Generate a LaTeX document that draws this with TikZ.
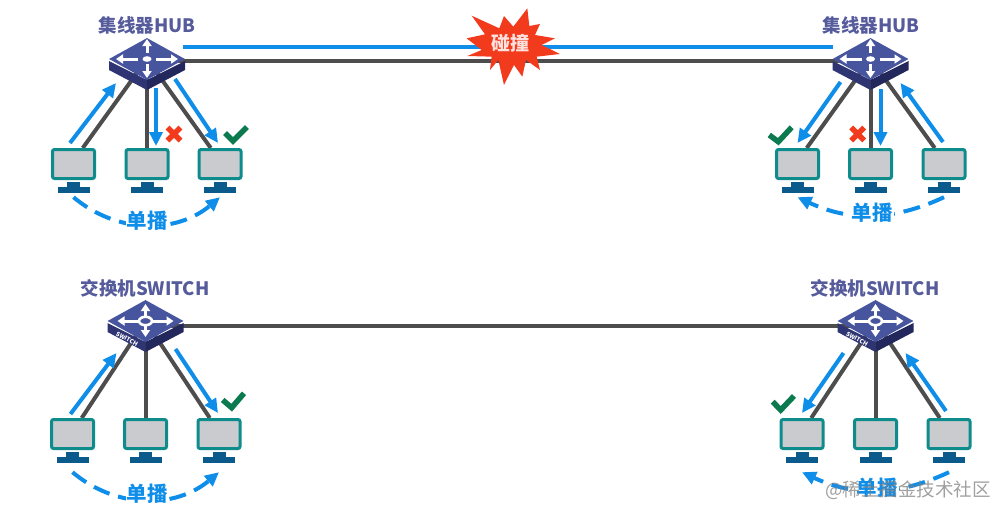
\documentclass[tikz,border=0pt]{standalone}
\usepackage{fontspec}
\setmainfont{Noto Sans CJK SC}
\usepackage{xcolor}
\usetikzlibrary{shapes.geometric, arrows.meta, backgrounds, calc}

\definecolor{wireblue}{HTML}{0F8EE9}
\definecolor{wiregray}{HTML}{4D4D4D}
\definecolor{screenteal}{HTML}{0E8C8C}
\definecolor{screengray}{HTML}{C9CBCF}
\definecolor{standblue}{HTML}{0B5A8C}
\definecolor{hubtopcol}{HTML}{47549E}
\definecolor{hubleftcol}{HTML}{2E3572}
\definecolor{hubrightcol}{HTML}{22275C}
\definecolor{titlecol}{HTML}{565B9C}
\definecolor{okcol}{HTML}{0B7A4F}
\definecolor{nocol}{HTML}{F23A1D}

\begin{document}
\begin{tikzpicture}[x=1pt,y=-1pt,
    pcscreen/.style={draw=screenteal,line width=3pt,fill=screengray,rounded corners=2pt,minimum width=42pt,minimum height=29pt,inner sep=0pt},
    pcbase/.style={fill=standblue,minimum width=32pt,minimum height=6pt,inner sep=0pt},
    hubtop/.style={diamond,aspect=1.8,fill=hubtopcol,minimum width=76pt,minimum height=42pt,inner sep=0pt},
    devtitle/.style={text=titlecol,font=\bfseries\fontsize{18.5}{20}\selectfont,inner sep=0pt},
    unilabel/.style={text=wireblue,fill=white,font=\bfseries\fontsize{20.5}{22}\selectfont,inner sep=1pt},
    trunk/.style={draw=wiregray,line width=4pt},
    flow/.style={draw=wireblue,line width=4pt,-{Triangle[length=14pt,width=13pt]}},
    unicast/.style={draw=wireblue,line width=4pt,dash pattern=on 17pt off 9pt,-{Triangle[length=14pt,width=13pt]}},
    glyph/.style={draw=white,line width=3pt,-{Triangle[length=7pt,width=9pt]}},
    okmark/.style={draw=okcol,line width=5.5pt},
    nomark/.style={draw=nocol,line width=5.5pt}]
    \useasboundingbox (0,0) rectangle (1005,517);

    \def\pcnode#1#2#3{
      \node[pcscreen] (#1) at (#2,#3) {};
      \node[pcbase] (#1base) at (#2,#3+26) {};
      \fill[standblue] ([xshift=-6.5pt]#1base.north) rectangle ([xshift=6.5pt,yshift=5pt]#1base.north);
    }
    \def\hubnode#1#2#3{
      \fill[hubleftcol] (#2-38,#3+2) -- (#2,#3+21) -- (#2,#3+31) -- (#2-38,#3+11) -- cycle;
      \fill[hubrightcol] (#2+38,#3+2) -- (#2,#3+21) -- (#2,#3+31) -- (#2+38,#3+11) -- cycle;
      \node[hubtop] (#1) at (#2,#3) {};
    }

    % top row
    \hubnode{hubA}{147}{59}
    \hubnode{hubB}{870.5}{59}
    \pcnode{pcA}{73.5}{164}
    \pcnode{pcB}{147}{164}
    \pcnode{pcC}{220}{164}
    \pcnode{pcD}{797.5}{164}
    \pcnode{pcE}{870.5}{164}
    \pcnode{pcF}{944}{164}

    % bottom row
    \hubnode{swA}{145.5}{321}
    \hubnode{swB}{875.5}{321}
    \pcnode{pcG}{72.5}{434}
    \pcnode{pcH}{145.5}{434}
    \pcnode{pcI}{219}{434}
    \pcnode{pcJ}{802}{434}
    \pcnode{pcK}{875.5}{434}
    \pcnode{pcL}{949}{434}

    % arrows on the hubs
    \foreach \hub in {hubA,hubB} {
      \fill[white] (\hub.center) ellipse (4.5 and 2.8);
      \draw[glyph] ([yshift=6pt]\hub.center) -- ([yshift=20pt]\hub.center);
      \draw[glyph] ([yshift=-5pt]\hub.center) -- ([yshift=-19pt]\hub.center);
      \draw[glyph] ([xshift=-9pt]\hub.center) -- ([xshift=-31pt]\hub.center);
      \draw[glyph] ([xshift=9pt]\hub.center) -- ([xshift=31pt]\hub.center);
    }
    \foreach \hub in {swA,swB} {
      \draw[white,line width=2.6pt] (\hub.center) ellipse (6.5 and 4.2);
      \draw[glyph] ([yshift=4pt]\hub.center) -- ([yshift=17pt]\hub.center);
      \draw[glyph] ([yshift=-4pt]\hub.center) -- ([yshift=-16pt]\hub.center);
      \draw[glyph] ([xshift=-6pt]\hub.center) -- ([xshift=-28pt]\hub.center);
      \draw[glyph] ([xshift=6pt]\hub.center) -- ([xshift=28pt]\hub.center);
      \node[white,rotate=-29,inner sep=0pt,font=\bfseries\fontsize{6}{6}\selectfont] (\hub side) at ([shift={(-18.5,18)}]\hub.center) {SWITCH};
    }

    % wires
    \begin{pgfonlayer}{background}
      \draw[trunk] ([yshift=-2pt]hubA.center) -- ([yshift=-2pt]hubB.center);
      \draw[trunk] ([yshift=-5pt]swA.center) -- ([yshift=-5pt]swB.center);
      \draw[trunk] (hubA.center) -- (pcA.60);
      \draw[trunk] (hubA.center) -- (pcB.north);
      \draw[trunk] (hubA.center) -- (pcC.120);
      \draw[trunk] (hubB.center) -- (pcD.60);
      \draw[trunk] (hubB.center) -- (pcE.north);
      \draw[trunk] (hubB.center) -- (pcF.120);
      \draw[trunk] (swA.center) -- (pcG.60);
      \draw[trunk] (swA.center) -- (pcH.north);
      \draw[trunk] (swA.center) -- (pcI.120);
      \draw[trunk] (swB.center) -- (pcJ.60);
      \draw[trunk] (swB.center) -- (pcK.north);
      \draw[trunk] (swB.center) -- (pcL.120);
    \end{pgfonlayer}

    % blue frames
    \draw[draw=wireblue,line width=4pt] ([shift={(36,-12.5)}]hubA.center) -- ([shift={(-38,-12.5)}]hubB.center);
    \draw[flow] ([shift={(-3.5,-21)}]pcA.center) -- ([shift={(-31,24)}]hubA.center);
    \draw[flow] ([shift={(9,29)}]hubA.center) -- ([shift={(9,-18)}]pcB.center);
    \draw[flow] ([shift={(28,20)}]hubA.center) -- ([shift={(-2,-21)}]pcC.center);
    \draw[flow] ([shift={(-1,-22)}]pcF.center) -- ([shift={(30,24)}]hubB.center);
    \draw[flow] ([shift={(10,30)}]hubB.center) -- ([shift={(10,-18)}]pcE.center);
    \draw[flow] ([shift={(-30,23)}]hubB.center) -- ([shift={(0,-21)}]pcD.center);
    \draw[flow] ([shift={(-2,-20)}]pcG.center) -- ([shift={(-29,32)}]swA.center);
    \draw[flow] ([shift={(30,28)}]swA.center) -- ([shift={(-1,-21)}]pcI.center);
    \draw[flow] ([shift={(-3,-23)}]pcL.center) -- ([shift={(30,32)}]swB.center);
    \draw[flow] ([shift={(-32,32)}]swB.center) -- ([shift={(0,-21)}]pcJ.center);

    % unicast arcs
    \draw[unicast] ([yshift=-4pt]pcAbase.south) to[bend right=40] ([yshift=-4pt]pcCbase.south);
    \draw[unicast] ([yshift=-4pt]pcFbase.south) to[bend left=25] ([yshift=-4pt]pcDbase.south);
    \draw[unicast] ([yshift=-9pt]pcGbase.south) to[bend right=40] ([yshift=-9pt]pcIbase.south);
    \draw[unicast] ([yshift=-9pt]pcLbase.south) to[bend left=25] ([yshift=-9pt]pcJbase.south);
    \node[unilabel] (uniA) at (147,221) {单播};
    \node[unilabel] (uniB) at (872,213) {单播};
    \node[unilabel] (uniC) at (147,494) {单播};
    \node[unilabel] (uniD) at (877,488) {单播};

    % marks
    \draw[okmark] (225,133) -- (233,141) -- (247,127);
    \draw[okmark] (769.3,135) -- (778.3,141.7) -- (791.7,127.3);
    \draw[okmark] (222.7,400) -- (231.7,407.7) -- (244,393.3);
    \draw[okmark] (772.7,401.7) -- (780.7,410) -- (794,396);
    \draw[nomark] (167.5,127.5) -- (180.5,140.5) (180.5,127.5) -- (167.5,140.5);
    \draw[nomark] (851.2,127.5) -- (864.2,140.5) (864.2,127.5) -- (851.2,140.5);

    % titles
    \node[devtitle] (titleA) at (147,25.5) {集线器HUB};
    \node[devtitle] (titleB) at (871,25.5) {集线器HUB};
    \node[devtitle] (titleC) at (145,288) {交换机SWITCH};
    \node[devtitle] (titleD) at (875,288) {交换机SWITCH};

    % collision
    \begin{scope}[shift={(440,0)},x=0.3333pt,y=-0.3333pt]
      \fill[nocol] (262,25) -- (268,78) -- (300,72) -- (285,105) -- (345,115) -- (305,135) -- (360,162)
        -- (290,170) -- (300,210) -- (258,180) -- (247,230) -- (222,195) -- (192,255) -- (175,180)
        -- (150,210) -- (155,170) -- (82,168) -- (125,150) -- (80,115) -- (135,103) -- (95,47)
        -- (178,85) -- (192,48) -- (220,80) -- cycle;
    \end{scope}
    \node[text=white!85!nocol,inner sep=0pt,font=\bfseries\fontsize{19}{20}\selectfont] (crash) at (510.7,43) {碰撞};

    \node[text=gray,opacity=0.75,inner sep=0pt,font=\fontsize{18.5}{20}\selectfont] (mark) at (908,490) {@稀土掘金技术社区};
\end{tikzpicture}
\end{document}
